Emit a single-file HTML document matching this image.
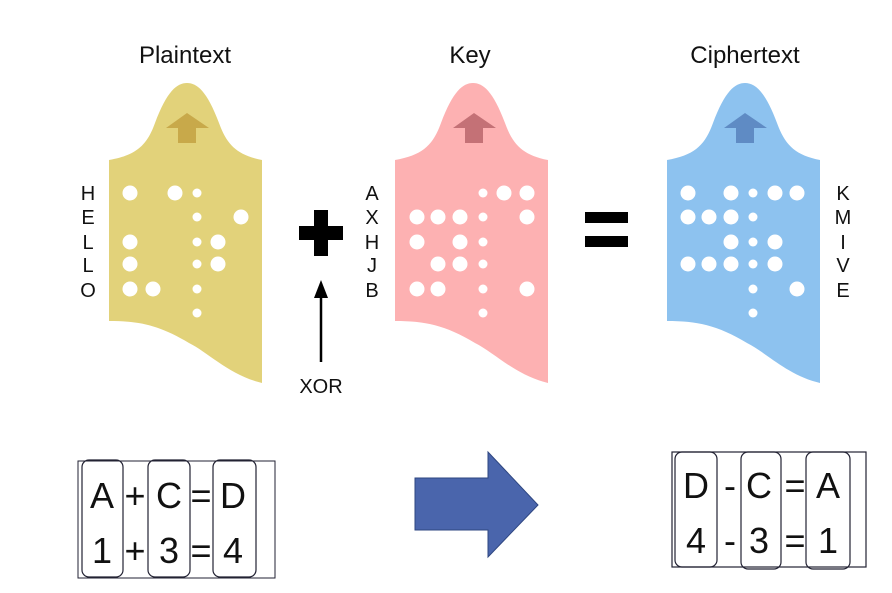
<!DOCTYPE html>
<html><head><meta charset="utf-8"><style>
body{margin:0;background:#fff;}
svg{display:block;font-family:"Liberation Sans",sans-serif;}
</style></head><body>
<svg width="892" height="593" viewBox="0 0 892 593">
<defs>
<g id="card">
<path d="M0,77 C28,72 38,62 46,40 C58,8 68,0 78,0 C88,0 98,8 110,40 C118,62 128,72 153,77 L153,300 C120,292 100,270 80,260 C50,242 30,238 0,238 Z"/>
</g>
</defs>
<g font-size="24" text-anchor="middle" fill="#111">
<text x="185" y="63">Plaintext</text>
<text x="470" y="63">Key</text>
<text x="745" y="63">Ciphertext</text>
</g>
<use href="#card" x="109" y="83" fill="#e2d27a"/>
<use href="#card" x="395" y="83" fill="#fdb1b2"/>
<use href="#card" x="667" y="83" fill="#8dc2ef"/>
<polygon points="166,128 187,113 209,128 196,128 196,143 178,143 178,128" fill="#c8a94a"/>
<polygon points="453,128 474,113 496,128 483,128 483,143 465,143 465,128" fill="#c47176"/>
<polygon points="724,128 745,113 767,128 754,128 754,143 736,143 736,128" fill="#5f8bc4"/>
<g fill="#fff">
<circle cx="130" cy="193" r="7.5"/><circle cx="175" cy="193" r="7.5"/><circle cx="197" cy="193" r="4.5"/>
<circle cx="197" cy="217" r="4.5"/><circle cx="241" cy="217" r="7.5"/>
<circle cx="130" cy="242" r="7.5"/><circle cx="197" cy="242" r="4.5"/><circle cx="218" cy="242" r="7.5"/>
<circle cx="130" cy="264" r="7.5"/><circle cx="197" cy="264" r="4.5"/><circle cx="218" cy="264" r="7.5"/>
<circle cx="130" cy="289" r="7.5"/><circle cx="153" cy="289" r="7.5"/><circle cx="197" cy="289" r="4.5"/>
<circle cx="197" cy="313" r="4.5"/>
<circle cx="483" cy="193" r="4.5"/><circle cx="504" cy="193" r="7.5"/><circle cx="527" cy="193" r="7.5"/>
<circle cx="417" cy="217" r="7.5"/><circle cx="438" cy="217" r="7.5"/><circle cx="460" cy="217" r="7.5"/><circle cx="483" cy="217" r="4.5"/><circle cx="527" cy="217" r="7.5"/>
<circle cx="417" cy="242" r="7.5"/><circle cx="460" cy="242" r="7.5"/><circle cx="483" cy="242" r="4.5"/>
<circle cx="438" cy="264" r="7.5"/><circle cx="460" cy="264" r="7.5"/><circle cx="483" cy="264" r="4.5"/>
<circle cx="417" cy="289" r="7.5"/><circle cx="438" cy="289" r="7.5"/><circle cx="483" cy="289" r="4.5"/><circle cx="527" cy="289" r="7.5"/>
<circle cx="483" cy="313" r="4.5"/>
<circle cx="688" cy="193" r="7.5"/><circle cx="731" cy="193" r="7.5"/><circle cx="753" cy="193" r="4.5"/><circle cx="775" cy="193" r="7.5"/><circle cx="797" cy="193" r="7.5"/>
<circle cx="688" cy="217" r="7.5"/><circle cx="709" cy="217" r="7.5"/><circle cx="731" cy="217" r="7.5"/><circle cx="753" cy="217" r="4.5"/>
<circle cx="731" cy="242" r="7.5"/><circle cx="753" cy="242" r="4.5"/><circle cx="775" cy="242" r="7.5"/>
<circle cx="688" cy="264" r="7.5"/><circle cx="709" cy="264" r="7.5"/><circle cx="731" cy="264" r="7.5"/><circle cx="753" cy="264" r="4.5"/><circle cx="775" cy="264" r="7.5"/>
<circle cx="753" cy="289" r="4.5"/><circle cx="797" cy="289" r="7.5"/>
<circle cx="753" cy="313" r="4.5"/>
</g>
<g font-size="20" text-anchor="middle" fill="#111">
<text x="88" y="200">H</text><text x="88" y="224">E</text><text x="88" y="249">L</text><text x="88" y="272">L</text><text x="88" y="297">O</text>
<text x="372" y="200">A</text><text x="372" y="224">X</text><text x="372" y="249">H</text><text x="372" y="272">J</text><text x="372" y="297">B</text>
<text x="843" y="200">K</text><text x="843" y="224">M</text><text x="843" y="249">I</text><text x="843" y="272">V</text><text x="843" y="297">E</text>
<text x="321" y="393">XOR</text>
</g>
<rect x="299" y="226" width="44" height="14" fill="#000"/>
<rect x="314" y="210" width="14" height="46" fill="#000"/>
<rect x="585" y="212" width="43" height="11" fill="#000"/>
<rect x="585" y="236" width="43" height="11" fill="#000"/>
<line x1="321" y1="362" x2="321" y2="295" stroke="#000" stroke-width="2.5"/>
<polygon points="314,298 321,280 328,298" fill="#000"/>
<rect x="78" y="461" width="197" height="117" fill="none" stroke="#223" stroke-width="1"/>
<g fill="none" stroke="#223" stroke-width="1.2">
<rect x="82" y="460" width="41" height="117" rx="7"/>
<rect x="148" y="460" width="42" height="117" rx="7"/>
<rect x="213" y="460" width="43" height="117" rx="7"/>
<rect x="672" y="452" width="194" height="115"/>
<rect x="675" y="452" width="42" height="115" rx="7"/>
<rect x="741" y="452" width="40" height="117" rx="7"/>
<rect x="806" y="452" width="44" height="117" rx="7"/>
</g>
<g font-size="36" text-anchor="middle" fill="#111">
<text x="102" y="508">A</text><text x="135" y="508">+</text><text x="169" y="508">C</text><text x="201" y="508">=</text><text x="233" y="508">D</text>
<text x="102" y="563">1</text><text x="135" y="563">+</text><text x="169" y="563">3</text><text x="201" y="563">=</text><text x="233" y="563">4</text>
<text x="696" y="498">D</text><text x="730" y="498">-</text><text x="759" y="498">C</text><text x="795" y="498">=</text><text x="828" y="498">A</text>
<text x="696" y="553">4</text><text x="730" y="553">-</text><text x="759" y="553">3</text><text x="795" y="553">=</text><text x="828" y="553">1</text>
</g>
<polygon points="415,478 488,478 488,452 538,505 488,557 488,530 415,530" fill="#4a65ac" stroke="#2e4680" stroke-width="1"/>
</svg>
</body></html>
